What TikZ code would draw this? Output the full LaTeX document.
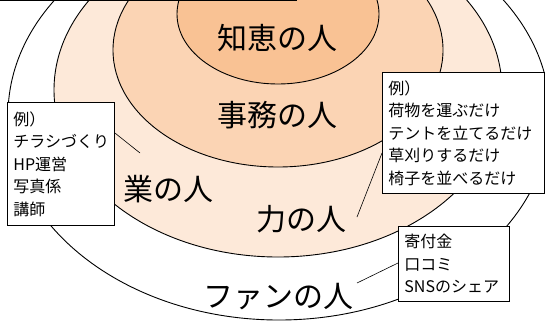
\documentclass[tikz,border=0pt]{standalone}
\usepackage{fontspec}
\setmainfont{Noto Sans CJK JP}
\definecolor{cA}{HTML}{F9C294}
\definecolor{cB}{HTML}{FBD4B4}
\definecolor{cC}{HTML}{FDE9D9}
\tikzset{
  ring/.style={draw=black, line width=0.9bp},
  biglabel/.style={font=\fontsize{30bp}{34bp}\selectfont, inner sep=0pt},
  notebox/.style={draw=black, fill=white, line width=0.9bp, anchor=north west, align=left,
    inner xsep=6bp, inner ysep=0pt, font=\fontsize{16bp}{22.5bp}\selectfont},
  link/.style={draw=black, line width=0.6bp}
}
\begin{document}
\begin{tikzpicture}[x=1bp,y=-1bp]
\useasboundingbox (0,0) rectangle (545,327);
\begin{scope}
\clip (0,0) rectangle (545,327);
\path[ring, fill=white] (279,115) ellipse [x radius=271, y radius=205];
\path[ring, fill=cC] (278,90) ellipse [x radius=224, y radius=167];
\path[ring, fill=cB] (278,50) ellipse [x radius=165, y radius=117];
\path[ring, fill=cA] (278,14) ellipse [x radius=101, y radius=70];
\draw[line width=1.3bp] (0,0.6) -- (297,0.6);
\end{scope}

\node[biglabel] (chie) at (277,38) {知恵の人};
\node[biglabel] (jimu) at (277,115) {事務の人};
\node[biglabel] (gyo) at (168,189) {業の人};
\node[biglabel] (chikara) at (301,219) {力の人};
\node[biglabel] (fan) at (278,297) {ファンの人};

\node[notebox, text width=95bp, minimum height=123bp] (lb) at (7,102)
  {例）\\チラシづくり\\HP運営\\写真係\\講師};
\node[notebox, text width=150bp, minimum height=121bp] (rb) at (382,72)
  {例）\\荷物を運ぶだけ\\テントを立てるだけ\\草刈りするだけ\\椅子を並べるだけ};
\node[notebox, text width=99bp, minimum height=75bp] (bb) at (398,226)
  {寄付金\\口コミ\\SNSのシェア};

\coordinate (ls) at (114,133);
\coordinate (lt) at (140,153);
\coordinate (rs) at (382,153);
\coordinate (rt) at (357,217);
\coordinate (bs) at (398,263);
\coordinate (bt) at (357,283);
\draw[link] (lb.east |- ls) -- (lt);
\draw[link] (rb.west |- rs) -- (rt);
\draw[link] (bb.west |- bs) -- (bt);
\end{tikzpicture}
\end{document}
